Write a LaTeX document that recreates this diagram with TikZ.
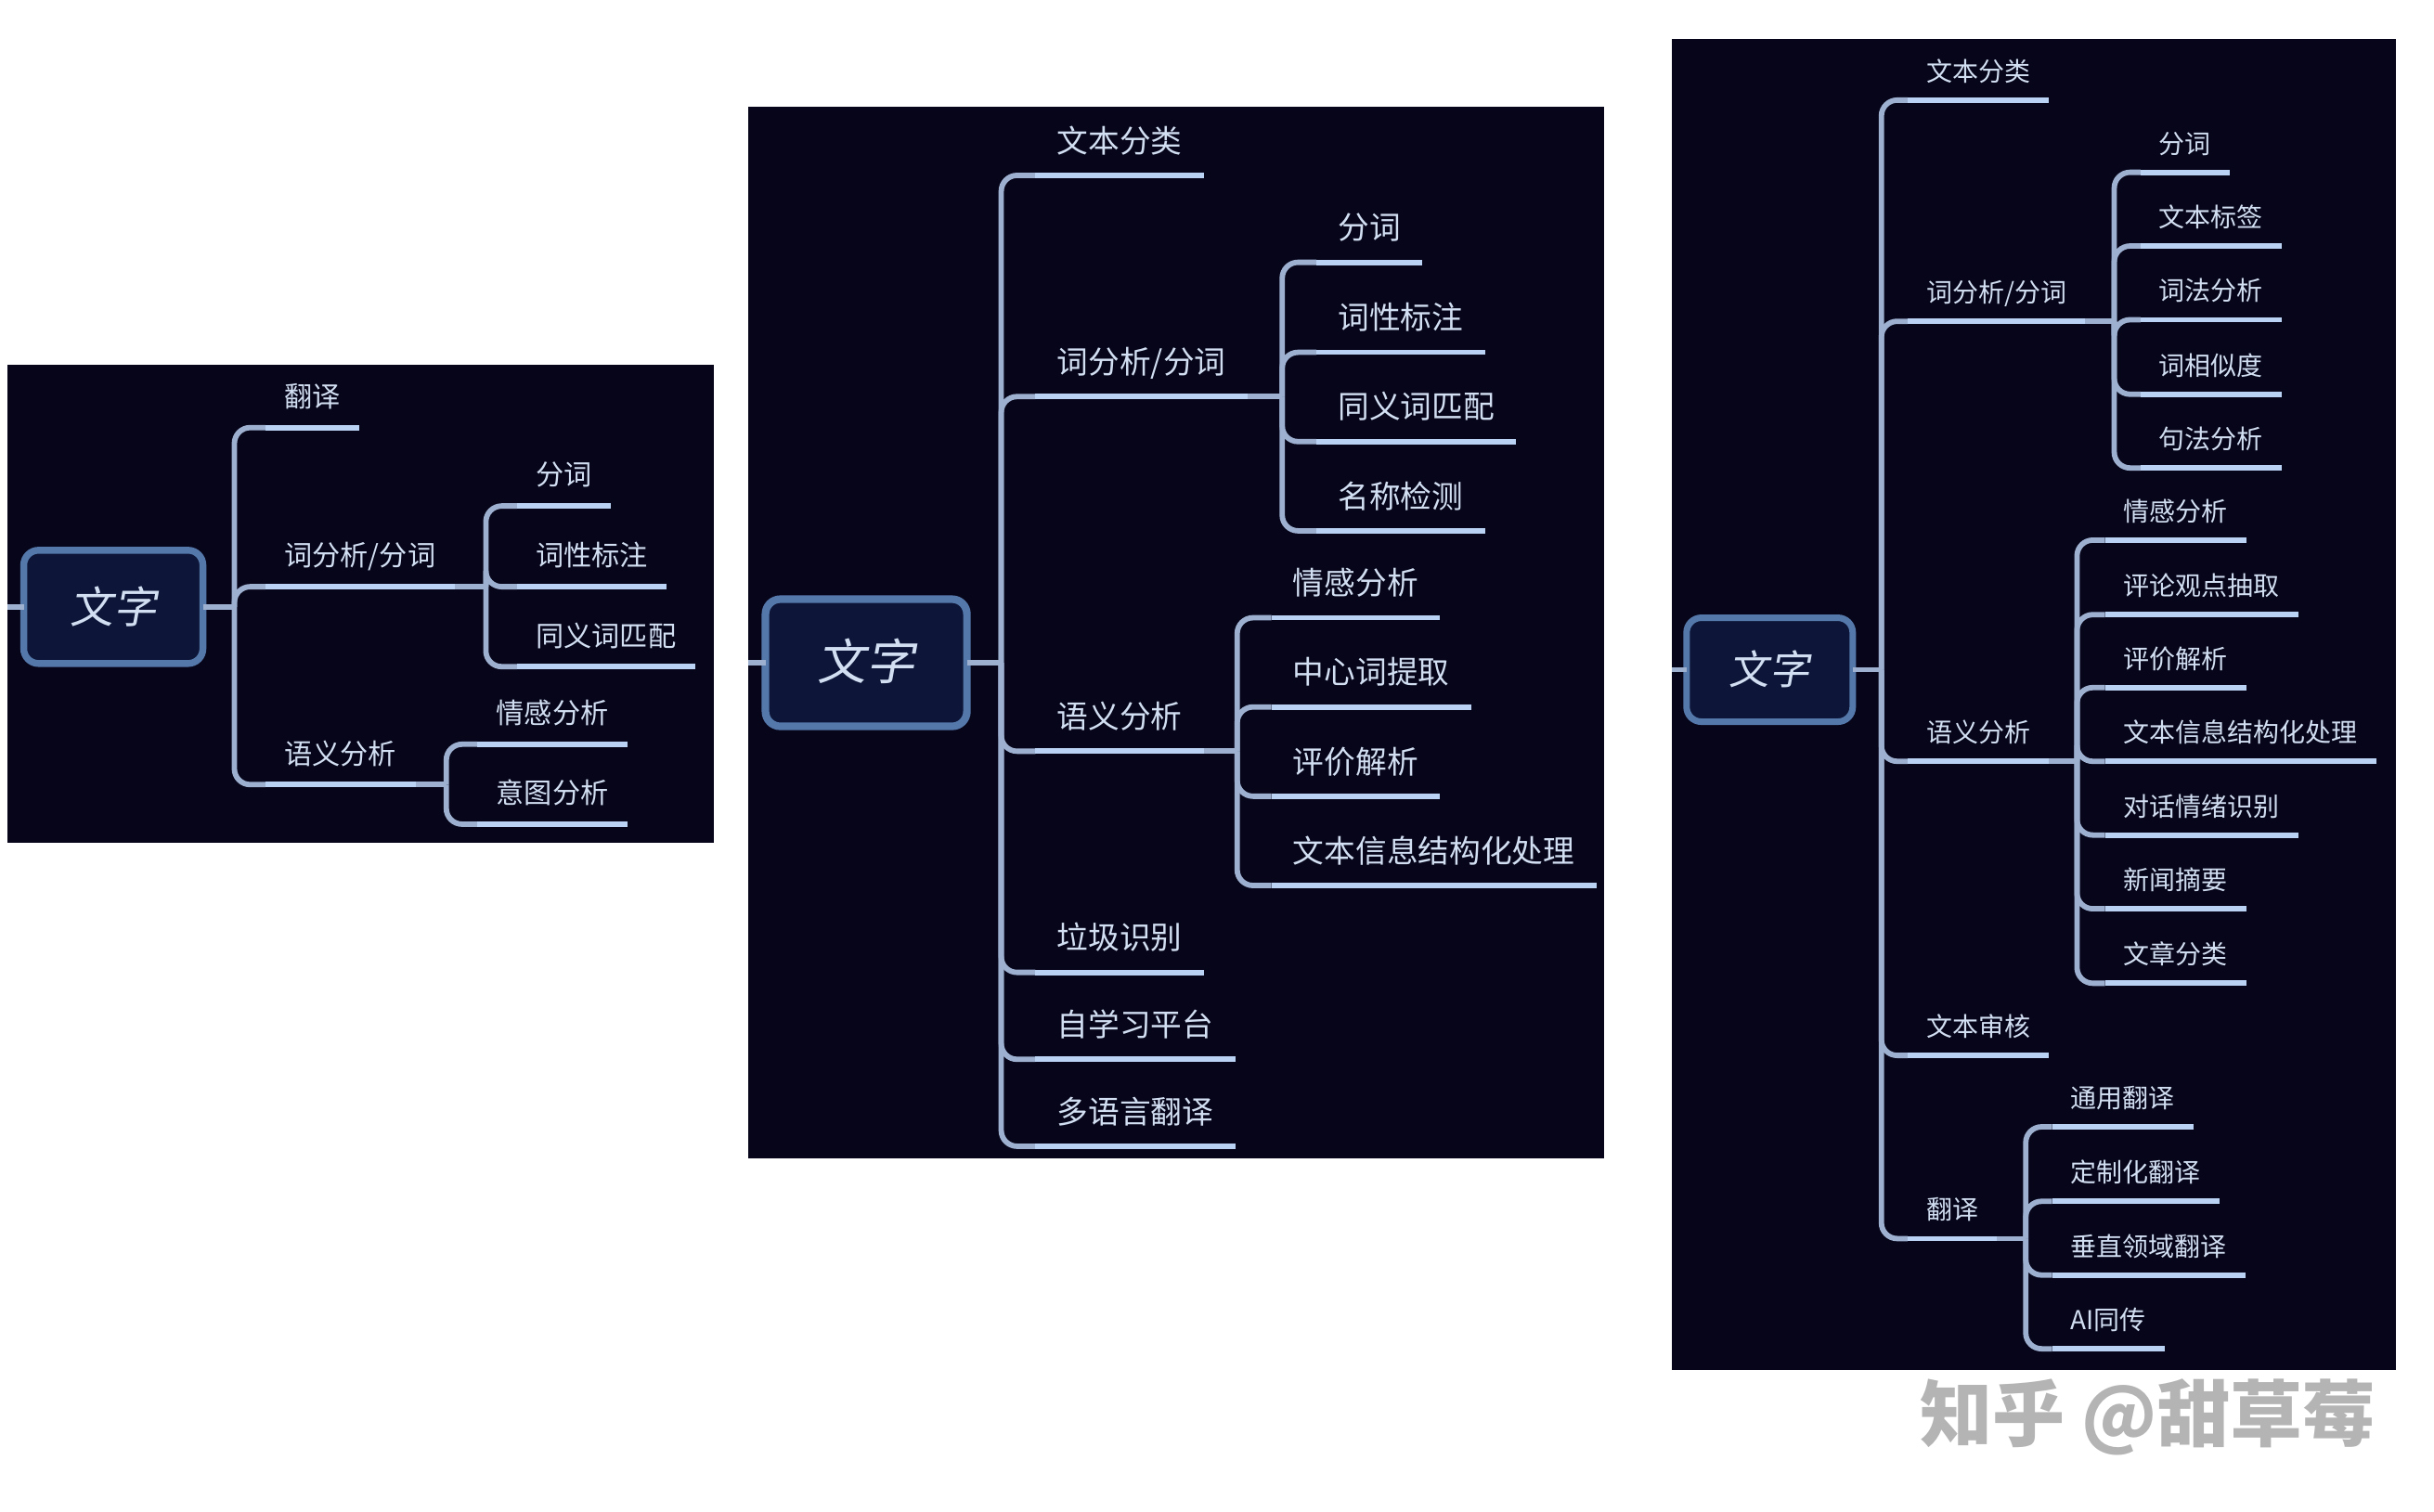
\documentclass[tikz,border=0pt]{standalone}
\usepackage{fontspec}
\setmainfont{Noto Sans CJK SC}
\newfontfamily\cjkslant[FakeSlant=0.18]{Noto Sans CJK SC}
\definecolor{panelbg}{HTML}{07051A}
\definecolor{rootfill}{HTML}{0D1638}
\definecolor{rootedge}{HTML}{5578AB}
\definecolor{connc}{HTML}{9DB0D0}
\definecolor{linec}{HTML}{BAD2F3}
\definecolor{labelc}{HTML}{D2DFF3}
\definecolor{markc}{HTML}{B4B4B4}
\tikzset{
  panel/.style={fill=panelbg,draw=none},
  conn/.style={draw=connc,line width=2.9pt,rounded corners=8.5pt},
  uline/.style={draw=linec,line width=2.9pt},
  topic/.style={anchor=south west,text=labelc,text depth=0pt,outer sep=0pt},
  sizea/.style={topic,font=\fontsize{15.1pt}{18pt}\selectfont,inner xsep=10.2pt,inner ysep=11.1pt},
  sizeb/.style={topic,font=\fontsize{16.85pt}{20pt}\selectfont,inner xsep=11.7pt,inner ysep=12.4pt},
  sizec/.style={topic,font=\fontsize{14pt}{17pt}\selectfont,inner xsep=10pt,inner ysep=10.3pt},
  rootbox/.style={rectangle,draw=rootedge,fill=rootfill,rounded corners=8pt,outer sep=0pt,inner sep=0pt,text=labelc},
  wmark/.style={text=markc,anchor=west,inner sep=0pt,font=\fontsize{39pt}{44pt}\selectfont\bfseries},
}
% name, parent junction, x, y, size style, text
\newcommand{\topicnode}[6]{%
  \node[#5] (#1) at (#3,#4) {#6};
  \draw[conn] (#2) |- (#1.south west);
  \draw[uline] (#1.south west) -- (#1.south east);
}
\begin{document}
\begin{tikzpicture}[x=0.836pt,y=-0.836pt]
\useasboundingbox (0,0) rectangle (1568,973.6);
% panels
\fill[panel] (5,235) rectangle (460,543);
\fill[panel] (482,69) rectangle (1033.3,746.5);
\fill[panel] (1077,25) rectangle (1543.3,882.5);

% ---------- panel 1
\node[rootbox,line width=3.7pt,minimum width=96.5pt,minimum height=61pt,font=\fontsize{23.4pt}{28pt}\cjkslant] (rootA) at (73,391) {\raisebox{1.2pt}{文字}};
\coordinate (stubA) at (5,391);
\coordinate (JA) at (151,391);
\draw[conn] (stubA) -- (rootA.west);
\draw[conn] (rootA.east) -- (JA);
\topicnode{a1}{JA}{171}{275.5}{sizea}{翻译}
\topicnode{a2}{JA}{171}{378}{sizea}{词分析/分词}
\topicnode{a3}{JA}{171}{505.5}{sizea}{语义分析}
\coordinate (Ka) at (313,378);
\coordinate (Kb) at (287.5,505.5);
\draw[conn] (a2.south east) -- (Ka);
\draw[conn] (a3.south east) -- (Kb);
\topicnode{a21}{Ka}{333}{326}{sizea}{分词}
\topicnode{a22}{Ka}{333}{378}{sizea}{词性标注}
\topicnode{a23}{Ka}{333}{429.5}{sizea}{同义词匹配}
\topicnode{a31}{Kb}{307.5}{479.5}{sizea}{情感分析}
\topicnode{a32}{Kb}{307.5}{531}{sizea}{意图分析}

% ---------- panel 2
\node[rootbox,line width=4.1pt,minimum width=108.5pt,minimum height=68.5pt,font=\fontsize{26.3pt}{31pt}\cjkslant] (rootB) at (558,427) {\raisebox{3.4pt}{文字}};
\coordinate (stubB) at (482,427);
\coordinate (JB) at (645,427);
\draw[conn] (stubB) -- (rootB.west);
\draw[conn] (rootB.east) -- (JB);
\topicnode{b1}{JB}{667}{113}{sizeb}{文本分类}
\topicnode{b2}{JB}{667}{255.5}{sizeb}{词分析/分词}
\topicnode{b3}{JB}{667}{484}{sizeb}{语义分析}
\topicnode{b4}{JB}{667}{626.5}{sizeb}{垃圾识别}
\topicnode{b5}{JB}{667}{682.5}{sizeb}{自学习平台}
\topicnode{b6}{JB}{667}{738.5}{sizeb}{多语言翻译}
\coordinate (Kc) at (826,255.5);
\coordinate (Kd) at (797,484);
\draw[conn] (b2.south east) -- (Kc);
\draw[conn] (b3.south east) -- (Kd);
\topicnode{b21}{Kc}{848}{169}{sizeb}{分词}
\topicnode{b22}{Kc}{848}{227}{sizeb}{词性标注}
\topicnode{b23}{Kc}{848}{284.5}{sizeb}{同义词匹配}
\topicnode{b24}{Kc}{848}{342}{sizeb}{名称检测}
\topicnode{b31}{Kd}{819}{398}{sizeb}{情感分析}
\topicnode{b32}{Kd}{819}{455.5}{sizeb}{中心词提取}
\topicnode{b33}{Kd}{819}{513}{sizeb}{评价解析}
\topicnode{b34}{Kd}{819}{570.5}{sizeb}{文本信息结构化处理}

% ---------- panel 3
\node[rootbox,line width=3.5pt,minimum width=89.5pt,minimum height=56pt,font=\fontsize{21.7pt}{26pt}\cjkslant] (rootC) at (1140,431.5) {\raisebox{2.4pt}{文字}};
\coordinate (stubC) at (1077,431.5);
\coordinate (JC) at (1212,431.5);
\draw[conn] (stubC) -- (rootC.west);
\draw[conn] (rootC.east) -- (JC);
\topicnode{c1}{JC}{1229}{64.5}{sizec}{文本分类}
\topicnode{c2}{JC}{1229}{207}{sizec}{词分析/分词}
\topicnode{c3}{JC}{1229}{490.5}{sizec}{语义分析}
\topicnode{c4}{JC}{1229}{680}{sizec}{文本审核}
\topicnode{c5}{JC}{1229}{798}{sizec}{翻译}
\coordinate (Ke) at (1362,207);
\coordinate (Kf) at (1338,490.5);
\coordinate (Kg) at (1305,798);
\draw[conn] (c2.south east) -- (Ke);
\draw[conn] (c3.south east) -- (Kf);
\draw[conn] (c5.south east) -- (Kg);
\topicnode{c21}{Ke}{1379}{111}{sizec}{分词}
\topicnode{c22}{Ke}{1379}{158.5}{sizec}{文本标签}
\topicnode{c23}{Ke}{1379}{206}{sizec}{词法分析}
\topicnode{c24}{Ke}{1379}{254}{sizec}{词相似度}
\topicnode{c25}{Ke}{1379}{301.5}{sizec}{句法分析}
\topicnode{c31}{Kf}{1356}{348}{sizec}{情感分析}
\topicnode{c32}{Kf}{1356}{396}{sizec}{评论观点抽取}
\topicnode{c33}{Kf}{1356}{443}{sizec}{评价解析}
\topicnode{c34}{Kf}{1356}{490.5}{sizec}{文本信息结构化处理}
\topicnode{c35}{Kf}{1356}{538}{sizec}{对话情绪识别}
\topicnode{c36}{Kf}{1356}{585.5}{sizec}{新闻摘要}
\topicnode{c37}{Kf}{1356}{633.5}{sizec}{文章分类}
\topicnode{c51}{Kg}{1322}{726}{sizec}{通用翻译}
\topicnode{c52}{Kg}{1322}{774}{sizec}{定制化翻译}
\topicnode{c53}{Kg}{1322}{821.5}{sizec}{垂直领域翻译}
\topicnode{c54}{Kg}{1322}{869}{sizec}{AI同传}

% watermark
\node[wmark] (wm) at (1237,913) {知乎 @甜草莓};
\end{tikzpicture}
\end{document}
